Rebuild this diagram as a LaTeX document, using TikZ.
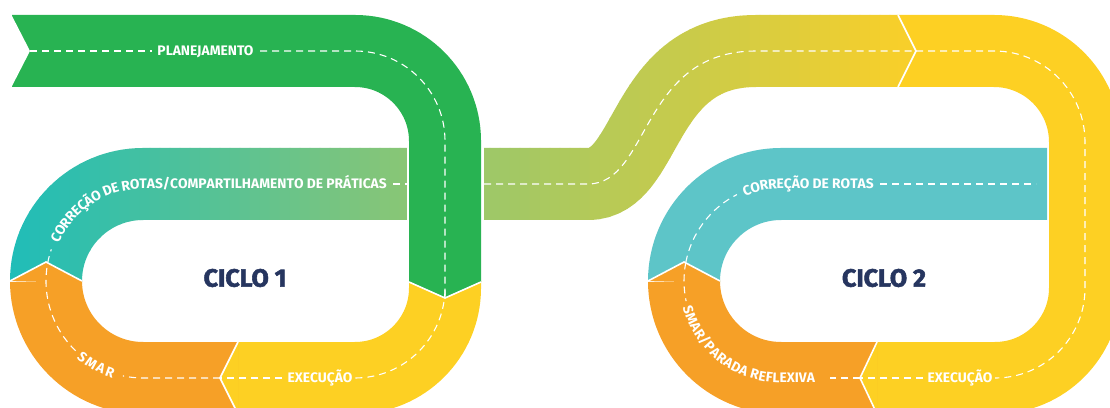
\documentclass[tikz,border=0pt]{standalone}
\usepackage{fontspec}
\newfontfamily\routefont{Fira Sans}
\newfontfamily\cyclefont{Fira Sans}[BoldFeatures={FakeBold=2.2}]
\usetikzlibrary{decorations.text}

\definecolor{tealstart}{HTML}{1FBDB8}
\definecolor{tealmid}{HTML}{95C76E}
\definecolor{routeend}{HTML}{F7CF2B}
\definecolor{planning}{HTML}{28B352}
\definecolor{execution}{HTML}{FDD023}
\definecolor{smar}{HTML}{F6A027}
\definecolor{correction}{HTML}{5DC5C8}
\definecolor{cyclenavy}{HTML}{26355F}

\newcommand\routelabel{\routefont\bfseries\fontsize{13.8}{13.8}\selectfont}

\tikzset{
  band/.style={line width=72pt},
  midline/.style={white, line width=1.1pt, dash pattern=on 7pt off 5pt},
  chevron/.style={white, line width=1.6pt},
  steplabel/.style={font=\routelabel, text=white, inner sep=0pt, anchor=base},
  curvedlabel/.style={decorate, decoration={text along path, raise=-4.8pt, text={|\routelabel\color{white}|#1}}},
  cyclelabel/.style={font=\cyclefont\bfseries\fontsize{25}{25}\selectfont, text=cyclenavy, inner sep=0pt},
}

\begin{document}
\begin{tikzpicture}[x=1pt,y=1pt]
\useasboundingbox (0,0) rectangle (1110,407);

% route with colour gradient: correction loop 1 into the link to loop 2
\foreach \i in {0,...,88} {
  \pgfmathsetmacro{\xa}{10+10*\i}
  \pgfmathsetmacro{\xm}{\xa+5}
  \ifdim\xm pt<450pt
    \pgfmathsetmacro{\p}{(\xm-10)/4.4}
    \colorlet{stripcol}{tealmid!\p!tealstart}
  \else
    \pgfmathsetmacro{\p}{(\xm-450)/4.48}
    \colorlet{stripcol}{routeend!\p!tealmid}
  \fi
  \begin{scope}
    \clip (\xa-0.4,0) rectangle (\xa+10.4,407);
    \draw[band, stripcol] (46,126) arc (180:90:97) -- (588,223) .. controls (650,223) and (640,356) .. (756,356) -- (898,356);
  \end{scope}
}

% loop 2 correction
\draw[band, correction] (684,126) arc (180:90:97) -- (1047,223);

% loop 1 execution and smar
\draw[band, execution] (445,126) -- (445,119) arc (0:-90:90) -- (238,29);
\draw[band, smar] (238,29) -- (143,29) arc (270:180:97);
\fill[smar] (10,126) -- (46,145) -- (82,126) -- cycle;
\draw[chevron] (10,126) -- (46,145) -- (82,126);
\fill[execution] (238.5,65) -- (220,29) -- (238.5,-7) -- cycle;
\draw[chevron] (238,65) -- (220,29) -- (238,-7);

% loop 1 planning, on top of the crossing
\draw[white, line width=77pt] (445,182) -- (445,266);
\draw[band, planning] (12,356) -- (355,356) arc (90:0:90) -- (445,125);
\fill[white] (11,393) -- (30,356) -- (11,319) -- cycle;
\fill[planning] (409,125.5) -- (445,109) -- (481,125.5) -- cycle;
\draw[chevron] (409,125) -- (445,109) -- (481,125);

% loop 2 execution and smar
\draw[band, execution] (898,356) -- (994,356) arc (90:0:91) -- (1085,119) arc (0:-90:90) -- (877,29);
\fill[routeend] (897.5,392) -- (916,356) -- (897.5,320) -- cycle;
\draw[chevron] (898,392) -- (916,356) -- (898,320);
\draw[band, smar] (877,29) -- (781,29) arc (270:180:97);
\fill[smar] (648,126) -- (684,145) -- (720,126) -- cycle;
\draw[chevron] (648,126) -- (684,145) -- (720,126);
\fill[execution] (877.5,65) -- (860,29) -- (877.5,-7) -- cycle;
\draw[chevron] (877,65) -- (860,29) -- (877,-7);

% centre lines
\draw[midline] (30,356) -- (152,356);
\draw[midline] (260,356) -- (355,356) arc (90:0:90) -- (445,109);
\draw[midline] (445,109) -- (445,119) arc (0:-90:90) -- (358,29);
\draw[midline] (282,29) -- (220,29);
\draw[midline] (220,29) -- (143,29) arc (270:258:97);
\draw[midline] ([shift={(226:97)}]143,126) arc (226:161:97);
\draw[midline] (393,223) -- (409,223);
\draw[midline] (484,223) -- (588,223) .. controls (650,223) and (640,356) .. (756,356) -- (916,356);
\draw[midline] (916,356) -- (994,356) arc (90:0:91) -- (1085,119) arc (0:-90:90) -- (998,29);
\draw[midline] (923,29) -- (860,29);
\draw[midline] (860,29) -- (830,29);
\draw[midline] ([shift={(169:97)}]781,126) arc (169:192:97);
\draw[midline] ([shift={(169:97)}]781,126) arc (169:117:97);
\draw[midline] (880,223) -- (1036,223);

% labels
\node[steplabel] (planejamento) at (205.5,351.2) {PLANEJAMENTO};
\node[steplabel] (execucao1) at (320,24.2) {EXECUÇÃO};
\node[steplabel] (execucao2) at (960,24.2) {EXECUÇÃO};
\path[curvedlabel={CORREÇÃO DE ROTAS/COMPARTILHAMENTO DE PRÁTICAS}] ([shift={(156:97)}]143,126) arc (156:90:97) -- (430,223);
\path[curvedlabel={S{\kern1.5pt}M{\kern1.5pt}A{\kern1.5pt}R}] ([shift={(229:97)}]143,126) arc (229:270:97);
\path[curvedlabel={SMAR/PARADA REFLEXIVA}] ([shift={(195:97)}]781,126) arc (195:270:97) -- (860,29);
\path[curvedlabel={CORREÇÃO DE ROTAS}] ([shift={(113:97)}]781,126) arc (113:90:97) -- (900,223);
\node[cyclelabel] (ciclo1) at (245,129) {CICLO 1};
\node[cyclelabel] (ciclo2) at (884,129) {CICLO 2};
\end{tikzpicture}
\end{document}
